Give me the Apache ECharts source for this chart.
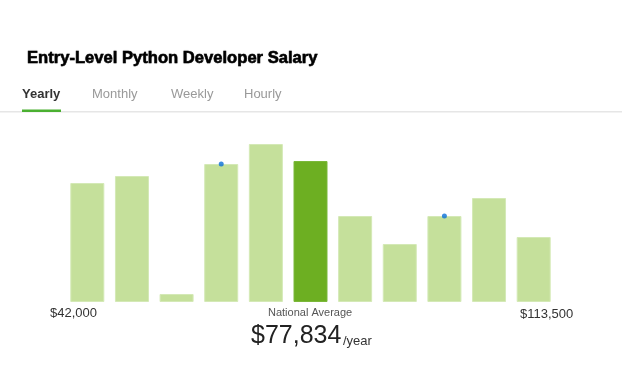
<!DOCTYPE html>
<html>
<head>
<meta charset="utf-8">
<script src="https://cdn.jsdelivr.net/npm/echarts@6/dist/echarts.min.js"></script>
<style>html,body{margin:0;padding:0;background:#fff;}#c{width:624px;height:385px;}</style>
</head>
<body>
<div id="c"></div>
<script>
// Salary distribution bins (relative frequency)
var categories = ['b1','b2','b3','b4','b5','b6','b7','b8','b9','b10','b11'];
var values = [119, 126, 8, 138, 158, 141, 86, 58, 86, 104, 65];
var highlightIndex = 5;
var dotIndices = [3, 8];
var tabs = ['Yearly', 'Monthly', 'Weekly', 'Hourly'];
var minLabel = '$42,000';
var maxLabel = '$113,500';
var avgLabel = 'National Average';
var avgValue = '$77,834';
var avgUnit = '/year';
var titleText = 'Entry-Level Python Developer Salary';

var FONT = '"Liberation Sans", Arial, sans-serif';
var chart = echarts.init(document.getElementById('c'), null, {renderer: 'canvas'});

var barData = values.map(function (v, i) {
  return {
    value: v,
    itemStyle: i === highlightIndex
      ? {color: '#6daf22', borderColor: '#7bb83a', borderWidth: 1}
      : {color: '#c5e09b', borderColor: '#d4e9b6', borderWidth: 1}
  };
});
var dotData = dotIndices.map(function (i) { return [categories[i], values[i]]; });

var tabX = [22, 92, 171, 244];
var graphics = [];
tabs.forEach(function (t, i) {
  graphics.push({
    type: 'text', left: tabX[i], top: 88,
    style: {text: t, font: (i === 0 ? 'bold ' : '') + '13px ' + FONT, fill: i === 0 ? '#333' : '#999'}
  });
});
graphics.push({type: 'rect', shape: {x: 0, y: 111, width: 622, height: 1.5}, style: {fill: '#e6e6e6'}});
graphics.push({type: 'rect', shape: {x: 22, y: 109.5, width: 39, height: 2.5}, style: {fill: '#4bb031'}});
graphics.push({type: 'text', left: 50, top: 307, style: {text: minLabel, font: '13px ' + FONT, fill: '#333'}});
graphics.push({type: 'text', left: 520, top: 308, style: {text: maxLabel, font: '13px ' + FONT, fill: '#333'}});
graphics.push({type: 'text', left: 268, top: 307, style: {text: avgLabel, font: '11px ' + FONT, fill: '#555'}});
graphics.push({type: 'text', left: 251, top: 324, style: {text: avgValue, font: '25px ' + FONT, fill: '#222'}});
graphics.push({type: 'text', left: 343, top: 335, style: {text: avgUnit, font: '13px ' + FONT, fill: '#333'}});

chart.setOption({
  animation: false,
  backgroundColor: '#fff',
  title: {
    text: titleText, left: 27, top: 50, padding: 0,
    textStyle: {fontFamily: FONT, fontWeight: 'bold', fontSize: 16.6, color: '#000',
      textBorderColor: '#000', textBorderWidth: 0.5,
      textShadowColor: 'rgba(0,0,0,0.3)', textShadowBlur: 1}
  },
  grid: {left: 65, right: 68, top: 142, bottom: 83},
  xAxis: {
    type: 'category', data: categories,
    axisLine: {show: false}, axisTick: {show: false}, axisLabel: {show: false}, splitLine: {show: false}
  },
  yAxis: {type: 'value', min: 0, max: 160, show: false, splitLine: {show: false}},
  series: [
    {type: 'bar', data: barData, barWidth: 34},
    {type: 'scatter', data: dotData, symbolSize: 5, itemStyle: {color: '#0a6fd8'}, z: 5}
  ],
  graphic: graphics
});
</script>
</body>
</html>
